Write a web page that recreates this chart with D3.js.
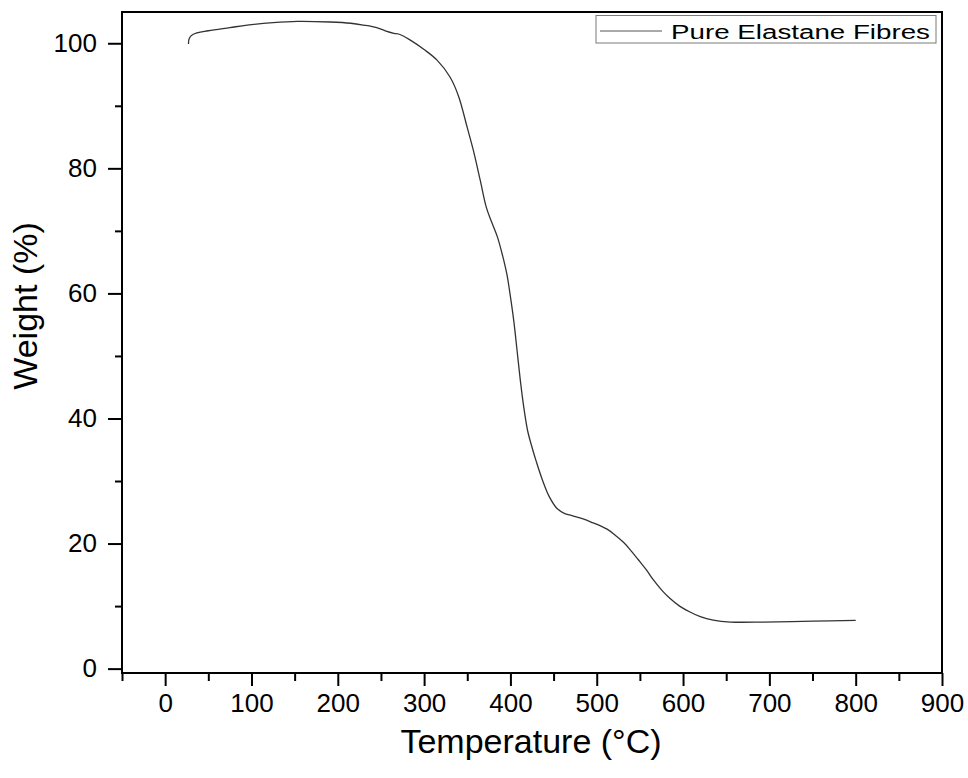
<!DOCTYPE html>
<html>
<head>
<meta charset="utf-8">
<script src="https://cdn.jsdelivr.net/npm/d3@7"></script>
<style>
  html, body { margin: 0; padding: 0; background: #fff; }
  text { font-family: Arial, "Liberation Sans", sans-serif; fill: #000; }
</style>
</head>
<body>
<svg id="chart" width="968" height="778"></svg>
<script>
// ---- data ----
const temperature = [27, 28, 32, 50, 75, 95, 125, 153, 191, 215, 230, 245, 255, 265, 272, 284, 300, 315, 330, 340, 350, 357, 365, 372, 378, 385, 391, 396, 400, 404, 408, 412, 416, 420, 425, 430, 437, 445, 454, 463, 473, 485, 496, 505, 512, 520, 531, 540, 550, 558, 565, 575, 585, 596, 608, 620, 635, 655, 693, 751, 800];
const weight =      [99.9, 100.8, 101.4, 102.0, 102.5, 102.9, 103.3, 103.5, 103.4, 103.2, 102.9, 102.5, 102.0, 101.6, 101.4, 100.5, 99.0, 97.3, 94.6, 91.5, 86.5, 82.9, 78.1, 73.8, 71.5, 69.0, 66.0, 63.0, 59.5, 55.5, 50.5, 45.5, 41.3, 38.0, 35.4, 33.1, 30.2, 27.5, 25.6, 24.8, 24.4, 23.9, 23.3, 22.8, 22.3, 21.5, 20.2, 18.8, 17.1, 15.7, 14.3, 12.6, 11.2, 10.0, 9.05, 8.3, 7.75, 7.45, 7.45, 7.6, 7.7];
const xTicks = [0, 100, 200, 300, 400, 500, 600, 700, 800, 900];
const yTicks = [0, 20, 40, 60, 80, 100];
const seriesName = "Pure Elastane Fibres";
const xTitle = "Temperature (°C)";
const yTitle = "Weight (%)";

// ---- layout ----
const svg = d3.select("#chart");
const L = 122, R = 942, T = 12, B = 673;
const x = d3.scaleLinear().domain([-50, 900]).range([L, R]);
const y = d3.scaleLinear().domain([-0.7, 105]).range([B, T]);

// minor ticks
const xMinor = d3.range(-50, 901, 50).filter(v => !xTicks.includes(v));
const yMinor = d3.range(10, 101, 20);

// x axis
const gx = svg.append("g").attr("transform", `translate(0,${B})`);
gx.call(d3.axisBottom(x).tickValues(xTicks).tickSize(13).tickPadding(8).tickFormat(d3.format("d")));
gx.append("g").call(d3.axisBottom(x).tickValues(xMinor).tickSize(8).tickFormat(""));
// y axis
const gy = svg.append("g").attr("transform", `translate(${L},0)`);
gy.call(d3.axisLeft(y).tickValues(yTicks).tickSize(14).tickPadding(11).tickFormat(d3.format("d")));
gy.append("g").call(d3.axisLeft(y).tickValues(yMinor).tickSize(7).tickFormat(""));

svg.selectAll(".domain").remove();
svg.selectAll(".tick line").attr("stroke", "#000").attr("stroke-width", 2);
svg.selectAll(".tick text").style("font-size", "26px").attr("fill", "#000");

// frame
svg.append("rect").attr("x", L).attr("y", T).attr("width", R - L).attr("height", B - T)
  .attr("fill", "none").attr("stroke", "#000").attr("stroke-width", 2);

// curve
const pts = temperature.map((t, i) => [t, weight[i]]);
svg.append("path").datum(pts)
  .attr("fill", "none").attr("stroke", "#333").attr("stroke-width", 1.3)
  .attr("d", d3.line().x(d => x(d[0])).y(d => y(d[1])).curve(d3.curveCatmullRom.alpha(0.5)));

// legend
const lg = svg.append("g");
lg.append("rect").attr("x", 596).attr("y", 15.5).attr("width", 340).attr("height", 27.5)
  .attr("fill", "#fff").attr("stroke", "#7a7a7a").attr("stroke-width", 1);
lg.append("line").attr("x1", 600).attr("x2", 662).attr("y1", 31).attr("y2", 31)
  .attr("stroke", "#555").attr("stroke-width", 1);
lg.append("text").attr("x", 671).attr("y", 39).style("font-size", "20px")
  .attr("textLength", 259).attr("lengthAdjust", "spacingAndGlyphs").text(seriesName);

// titles
svg.append("text").attr("x", 531).attr("y", 753).attr("text-anchor", "middle")
  .style("font-size", "34px").text(xTitle);
svg.append("text").attr("transform", `translate(37,306) rotate(-90)`)
  .attr("text-anchor", "middle").style("font-size", "34px").text(yTitle);
</script>
</body>
</html>
